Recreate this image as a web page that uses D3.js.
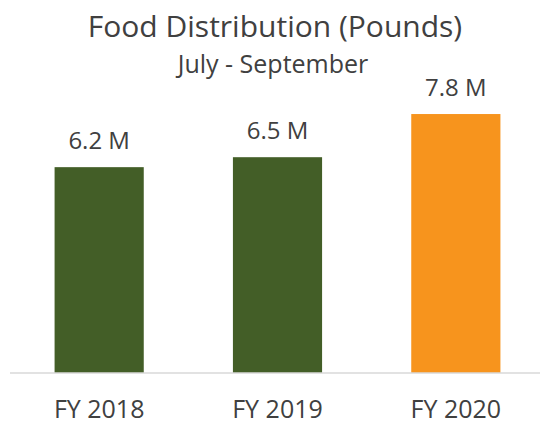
<!DOCTYPE html>
<html>
<head>
<meta charset="utf-8">
<script src="https://cdn.jsdelivr.net/npm/d3@7"></script>
<style>
  body { margin: 0; background: #fff; }
  text { font-family: "Open Sans", sans-serif; fill: #404040; }
</style>
</head>
<body>
<div id="chart"></div>
<script>
// Food distribution chart (pounds, millions)
const years = ["FY 2018", "FY 2019", "FY 2020"];
const pounds = [6.2, 6.5, 7.8];
const labels = ["6.2 M", "6.5 M", "7.8 M"];
const colors = ["#435E27", "#435E27", "#F7941D"];

const width = 540, height = 424,
    margin = ({ top: 74, right: -5, bottom: 51, left: 10 });

const svg = d3.select("#chart")
    .append("svg")
    .attr("width", width)
    .attr("height", height);

let x = d3.scaleBand()
    .domain(years)
    .range([margin.left, width - margin.right])
    .paddingInner(0.5)
    .paddingOuter(0.25);

let y = d3.scaleLinear()
    .domain([0, 9])
    .range([height - margin.bottom, height - margin.bottom - 9 * 33.2]);

let data = years.map((d, i) => ({ year: d, value: pounds[i], label: labels[i], color: colors[i] }));

svg.selectAll("rect.bar")  // the bars
    .data(data)
    .join("rect")
    .attr("class", "bar")
    .attr("x", d => x(d.year))
    .attr("y", d => y(d.value))
    .attr("width", x.bandwidth())
    .attr("height", d => y(0) - y(d.value))
    .attr("fill", d => d.color);

// x axis: just the baseline and the category labels
const xAxis = svg.append("g")
    .attr("transform", `translate(0,${y(0)})`)
    .call(d3.axisBottom(x).tickSize(0).tickPadding(0));
xAxis.select(".domain").attr("stroke", "#D9D9D9").attr("stroke-width", 1.3)
    .attr("d", `M${margin.left},0H${width}`);
xAxis.selectAll(".tick text")
    .attr("dy", null)
    .attr("y", 45)
    .attr("font-size", 25)
    .attr("font-family", "'Open Sans', sans-serif")
    .attr("fill", "#404040");

svg.selectAll("text.value")  // value labels above bars
    .data(data)
    .join("text")
    .attr("class", "value")
    .attr("x", d => x(d.year) + x.bandwidth() / 2)
    .attr("y", d => y(d.value) - 18)
    .attr("text-anchor", "middle")
    .attr("font-size", 24)
    .text(d => d.label);

svg.append("text")
    .attr("x", 275)
    .attr("y", 37)
    .attr("text-anchor", "middle")
    .attr("font-size", 30)
    .text("Food Distribution (Pounds)");

svg.append("text")
    .attr("x", 273)
    .attr("y", 73)
    .attr("text-anchor", "middle")
    .attr("font-size", 25)
    .text("July - September");
</script>
</body>
</html>
